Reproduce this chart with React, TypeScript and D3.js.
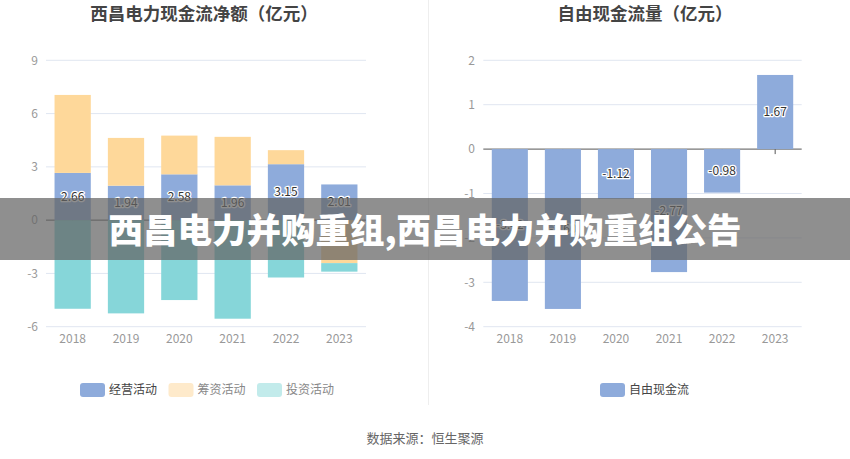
import React from 'react';
import * as d3 from 'd3';

const years = ['2018', '2019', '2020', '2021', '2022', '2023'];
const operating = [2.66, 1.94, 2.58, 1.96, 3.15, 2.01];
const financing = [4.39, 2.69, 2.18, 2.73, 0.79, -2.42];
const investing = [-4.99, -5.25, -4.5, -5.55, -3.23, -0.48];
const freeCashFlow = [-3.42, -3.6, -1.12, -2.77, -0.98, 1.67];

const leftTicks = [-6, -3, 0, 3, 6, 9];
const rightTicks = [-4, -3, -2, -1, 0, 1, 2];

const leftSeries = [
  { key: 'operating', name: '经营活动', values: operating, color: '#8eabdb', legend: '#8eabdb', text: '#444' },
  { key: 'financing', name: '筹资活动', values: financing, color: '#fed89a', legend: '#feeacb', text: '#888' },
  { key: 'investing', name: '投资活动', values: investing, color: '#86d6d9', legend: '#c2ebeb', text: '#888' },
];

const FONT = '"Noto Sans CJK SC", "Noto Sans", sans-serif';
const top = 60.3;
const bottom = 326.7;

const fmt = (v: number) => v.toFixed(2);

const App: React.FC = () => {
  // left chart scales
  const xL = d3.scaleBand<string>().domain(years).range([46, 366]).paddingInner(0.32).paddingOuter(0.16);
  const yL = d3.scaleLinear().domain([-6, 9]).range([bottom, top]);

  // right chart scales
  const xR = d3.scaleBand<string>().domain(years).range([483.3, 801.7]).paddingInner(0.32).paddingOuter(0.16);
  const yR = d3.scaleLinear().domain([-4, 2]).range([bottom, top]);

  const table = years.map((y, i) => ({
    year: y,
    operating: operating[i],
    financing: financing[i],
    investing: investing[i],
  }));
  const stacked = d3
    .stack<any>()
    .keys(leftSeries.map(s => s.key))
    .offset(d3.stackOffsetDiverging)(table);

  const labelStyle = {
    fontSize: 12,
    fill: '#333',
    stroke: '#fff',
    strokeWidth: 2.5,
    paintOrder: 'stroke',
    strokeLinejoin: 'round' as const,
  };

  return (
    <svg
      width={850}
      height={459}
      style={{ position: 'absolute', left: 0, top: 0, background: '#fff' }}
      fontFamily={FONT}
    >
      {/* titles */}
      <text x={204} y={20} textAnchor="middle" fontSize={17.5} fontWeight="bold" fill="#444">
        西昌电力现金流净额（亿元）
      </text>
      <text x={645} y={20} textAnchor="middle" fontSize={17.5} fontWeight="bold" fill="#444">
        自由现金流量（亿元）
      </text>

      {/* separator */}
      <line x1={428.5} x2={428.5} y1={0} y2={405} stroke="#eee" />

      {/* left grid */}
      {leftTicks.map(t => (
        <g key={`lg${t}`}>
          {t !== 0 && <line x1={46} x2={366} y1={yL(t)} y2={yL(t)} stroke="#e0e6f1" />}
          <text x={38} y={yL(t)} dy="0.35em" textAnchor="end" fontSize={12} fill="#999">
            {t}
          </text>
        </g>
      ))}
      <line x1={46} x2={366} y1={yL(0)} y2={yL(0)} stroke="#555" />
      {years.map(y => (
        <line key={`lt${y}`} x1={xL(y)! + xL.bandwidth() / 2} x2={xL(y)! + xL.bandwidth() / 2} y1={yL(0)} y2={yL(0) + 5} stroke="#555" />
      ))}

      {/* left bars */}
      {stacked.map((layer, li) => (
        <g key={layer.key}>
          {layer.map((d, i) => (
            <rect
              key={i}
              x={xL(years[i])}
              width={xL.bandwidth()}
              y={yL(Math.max(d[0], d[1]))}
              height={Math.abs(yL(d[0]) - yL(d[1]))}
              fill={leftSeries[li].color}
            />
          ))}
        </g>
      ))}
      {stacked[0].map((d, i) => (
        <text
          key={`ll${i}`}
          x={xL(years[i])! + xL.bandwidth() / 2}
          y={(yL(d[0]) + yL(d[1])) / 2}
          dy="0.35em"
          textAnchor="middle"
          {...labelStyle}
        >
          {fmt(operating[i])}
        </text>
      ))}
      {years.map(y => (
        <text key={`lx${y}`} x={xL(y)! + xL.bandwidth() / 2} y={339} dy="0.35em" textAnchor="middle" fontSize={12} fill="#999">
          {y}
        </text>
      ))}

      {/* right grid */}
      {rightTicks.map(t => (
        <g key={`rg${t}`}>
          {t !== 0 && <line x1={483.3} x2={801.7} y1={yR(t)} y2={yR(t)} stroke="#e0e6f1" />}
          <text x={475} y={yR(t)} dy="0.35em" textAnchor="end" fontSize={12} fill="#999">
            {t}
          </text>
        </g>
      ))}
      <line x1={483.3} x2={801.7} y1={yR(0)} y2={yR(0)} stroke="#555" />
      {years.map(y => (
        <line key={`rt${y}`} x1={xR(y)! + xR.bandwidth() / 2} x2={xR(y)! + xR.bandwidth() / 2} y1={yR(0)} y2={yR(0) + 5} stroke="#555" />
      ))}
      {freeCashFlow.map((v, i) => (
        <rect
          key={`rb${i}`}
          x={xR(years[i])}
          width={xR.bandwidth()}
          y={yR(Math.max(0, v))}
          height={Math.abs(yR(v) - yR(0))}
          fill="#8eabdb"
        />
      ))}
      {freeCashFlow.map((v, i) => (
        <text
          key={`rl${i}`}
          x={xR(years[i])! + xR.bandwidth() / 2}
          y={(yR(v) + yR(0)) / 2}
          dy="0.35em"
          textAnchor="middle"
          {...labelStyle}
        >
          {fmt(v)}
        </text>
      ))}
      {years.map(y => (
        <text key={`rx${y}`} x={xR(y)! + xR.bandwidth() / 2} y={339} dy="0.35em" textAnchor="middle" fontSize={12} fill="#999">
          {y}
        </text>
      ))}

      {/* legends */}
      {leftSeries.map((s, i) => (
        <g key={`leg${s.key}`} transform={`translate(${80 + i * 88.5}, 383)`}>
          <rect width={25} height={14} rx={3} fill={s.legend} />
          <text x={29} y={7} dy="0.35em" fontSize={12} fill={s.text}>
            {s.name}
          </text>
        </g>
      ))}
      <g transform="translate(600, 383)">
        <rect width={25} height={14} rx={3} fill="#8eabdb" />
        <text x={29} y={7} dy="0.35em" fontSize={12} fill="#444">
          自由现金流
        </text>
      </g>

      {/* source */}
      <text x={425} y={438} dy="0.35em" textAnchor="middle" fontSize={13} fill="#666">
        数据来源：恒生聚源
      </text>

      {/* banner */}
      <rect x={0} y={198} width={850} height={62} fill="rgba(100,100,100,0.72)" />
      <text x={425} y={231} dy="0.35em" textAnchor="middle" fontSize={34.5} fontWeight={900} fill="#fff">
        西昌电力并购重组,西昌电力并购重组公告
      </text>
    </svg>
  );
};

export default App;
